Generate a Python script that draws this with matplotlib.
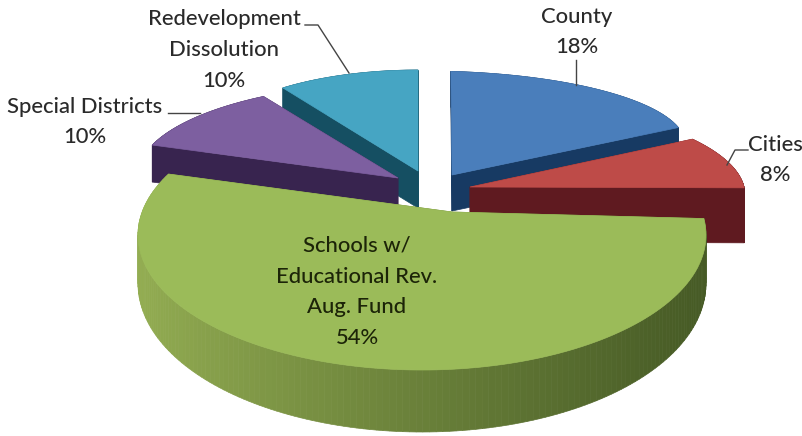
import numpy as np
import matplotlib
matplotlib.use("Agg")
import matplotlib.pyplot as plt
from matplotlib.patches import Polygon

# --- data ---
names = ["County", "Cities", "Schools", "Special Districts", "Redevelopment"]
values = [18, 8, 54, 10, 10]
labels = ["County\n18%", "Cities\n8%", "Schools w/\nEducational Rev.\nAug. Fund\n54%",
          "Special Districts\n10%", "Redevelopment\nDissolution\n10%"]

# --- style ---
top_cols = ["#4a7ebb", "#be4b48", "#9bbb59", "#7d5fa0", "#46a5c3"]
wall_cols = ["#173a63", "#5f1a20", "#6a8238", "#38244f", "#154f62"]
apex_px = [(452, 175), (470, 187), (452, 212), (398, 178), (418, 171)]
# per-slice perspective ellipse: centre x, centre y, rx, ry, arc start (deg)
ellipses = [(425, 144, 260, 73, 5.7), (470, 195, 275, 95, 54.0), (422, 235, 284, 135, 83.0),
            (400, 175, 262, 92, -71.0), (418, 148, 212, 78, -39.6)]
depths = [36, 55, 62, 37, 37]
draw_order = [4, 3, 0, 1, 2]
ANGLE_STRETCH = 1.1

plt.rcParams['font.family'] = ['Lato', 'DejaVu Sans']
fig = plt.figure(figsize=(8.02, 4.36), dpi=100)
ax = fig.add_axes([0, 0, 1, 1])
ax.set_xlim(0, 802); ax.set_ylim(436, 0); ax.axis("off")


def mix(c1, c2, f):
    return tuple(np.array(matplotlib.colors.to_rgb(c1)) * (1 - f) + np.array(matplotlib.colors.to_rgb(c2)) * f)


spans = np.array(values) / np.sum(values) * 360 * ANGLE_STRETCH
for i in draw_order:
    cx, cy, rx, ry, start = ellipses[i]
    phi = np.radians(np.linspace(start, start + spans[i], 160))
    ux = cx + rx * np.sin(phi)
    uy = cy - ry * np.cos(phi)
    ax_, ay_ = apex_px[i]
    if i == 2:
        d = 47 + (uy - 219) / (370 - 219) * (depths[i] - 47)
    else:
        d = np.full_like(ux, depths[i], dtype=float)
    for k in (0, -1):
        ax.add_patch(Polygon([(ax_, ay_), (ux[k], uy[k]), (ux[k], uy[k] + d[k]), (ax_, ay_ + depths[i])],
                             fc=wall_cols[i], ec=wall_cols[i], lw=0.5))
    for k in range(len(phi) - 1):
        if i == 2:
            f = np.clip((ux[k] - 138) / (707 - 138), 0, 1)
            col = mix("#93ad52", "#465a25", f ** 0.9)
        else:
            col = wall_cols[i]
        ax.add_patch(Polygon([(ux[k], uy[k]), (ux[k + 1], uy[k + 1]),
                              (ux[k + 1], uy[k + 1] + d[k + 1]), (ux[k], uy[k] + d[k])],
                             fc=col, ec=col, lw=0.5))
    ax.add_patch(Polygon(np.column_stack([np.r_[ax_, ux], np.r_[ay_, uy]]),
                         fc=top_cols[i], ec=top_cols[i], lw=0.5))

# labels and leaders
lab_pos = [(577, 32), (775, 160), (357, 292), (85, 122), (224, 50)]
for lab, (x, y), i in zip(labels, lab_pos, range(5)):
    ax.text(x, y, lab, ha="center", va="center", fontsize=15.8, color="#1c2408" if i == 2 else "#2a2a2a",
            fontweight="medium", linespacing=1.67, zorder=10)
leaders = [[(576, 60), (576, 85)], [(748, 150), (735, 150), (727, 165)],
           [(168, 113), (200, 113)], [(305, 25), (318, 25), (349, 73)]]
for l in leaders:
    xs, ys = zip(*l)
    ax.plot(xs, ys, color="#444444", lw=1.0, zorder=9)

fig.savefig("out.png", dpi=100)
